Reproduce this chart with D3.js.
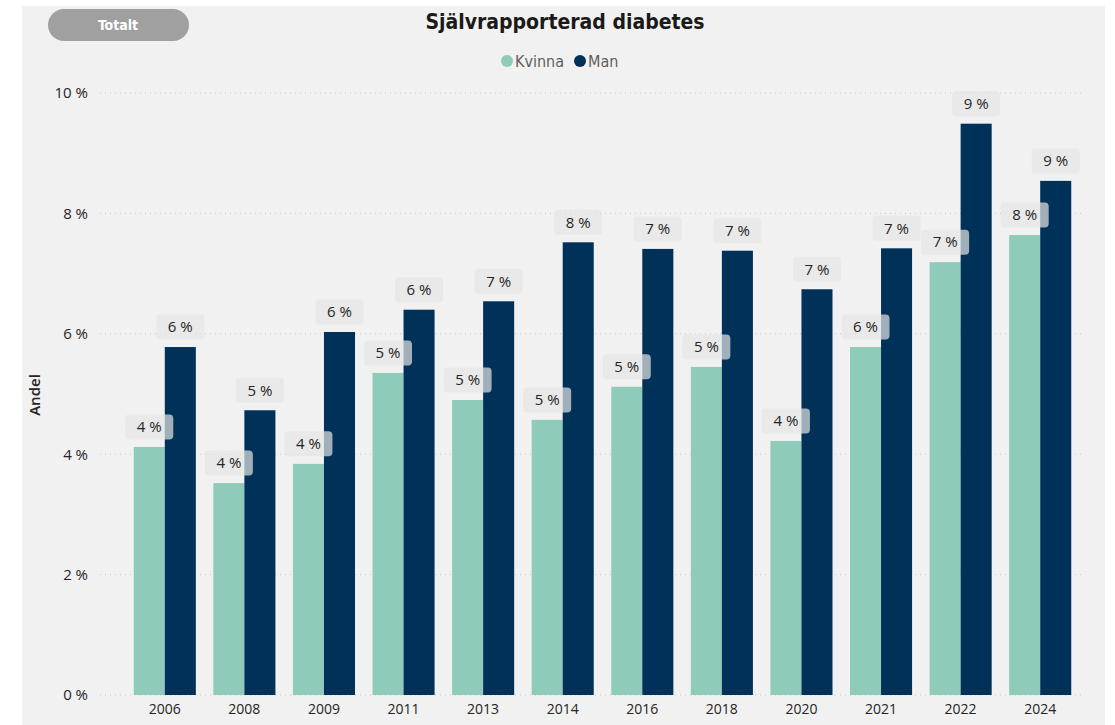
<!DOCTYPE html>
<html><head><meta charset="utf-8">
<script src="https://cdn.jsdelivr.net/npm/d3@7"></script>
<style>
html,body{margin:0;padding:0;background:#fff;}
svg{display:block;}
text{font-family:"Segoe UI","Open Sans","DejaVu Sans",sans-serif;}
</style></head><body>
<svg id="chart" width="1115" height="725"></svg>
<script>
const years = ["2006","2008","2009","2011","2013","2014","2016","2018","2020","2021","2022","2024"];
const kvinna = [4.12,3.52,3.84,5.35,4.90,4.57,5.12,5.45,4.22,5.78,7.19,7.64];
const man = [5.78,4.73,6.03,6.40,6.54,7.52,7.41,7.38,6.74,7.42,9.49,8.54];
const seriesNames = ["Kvinna","Man"];
const seriesColors = ["#8FCBBA","#003158"];
const yTicks = [0,2,4,6,8,10];
const titleText = "Självrapporterad diabetes";
const yTitle = "Andel";
const buttonText = "Totalt";

const svg = d3.select("#chart");
svg.append("rect").attr("x",22).attr("y",6).attr("width",1083).attr("height",719).attr("fill","#f1f1f1");

const x0 = d3.scaleBand().domain(years).range([125,1080]).paddingInner(0.22).paddingOuter(0.11);
const x1 = d3.scaleBand().domain(seriesNames).range([0,x0.bandwidth()]);
const y = d3.scaleLinear().domain([0,10]).range([695,93]);

// gridlines
svg.append("g").selectAll("line").data(yTicks).join("line")
  .attr("x1",100).attr("x2",1085).attr("y1",d=>y(d)).attr("y2",d=>y(d))
  .attr("stroke","#c8c8c8").attr("stroke-width",1).attr("stroke-dasharray","1,4");

// y axis
const yAxis = d3.axisLeft(y).tickValues(yTicks).tickFormat(d=>d+" %").tickSize(0).tickPadding(0);
const ya = svg.append("g").attr("transform","translate(88,0)").call(yAxis);
ya.select(".domain").remove();
ya.selectAll("text").attr("font-size",15).attr("fill","#252423").style("font-family",'"Segoe UI","Open Sans","DejaVu Sans",sans-serif');

// x axis
const xAxis = d3.axisBottom(x0).tickSize(0).tickPadding(0);
const xa = svg.append("g").attr("transform","translate(0,704)").call(xAxis);
xa.select(".domain").remove();
xa.selectAll("text").attr("font-size",14).attr("fill","#252423").style("font-family",'"Segoe UI","Open Sans","DejaVu Sans",sans-serif');

// y title
svg.append("text").attr("transform","translate(40,395) rotate(-90)").attr("text-anchor","middle")
  .attr("font-size",15).attr("font-weight",600).attr("fill","#252423").text(yTitle);

const data = years.map((yr,i)=>({year:yr, vals:[{s:"Kvinna",v:kvinna[i],c:seriesColors[0]},{s:"Man",v:man[i],c:seriesColors[1]}]}));
const groups = svg.append("g").selectAll("g").data(data).join("g")
  .attr("transform",d=>`translate(${x0(d.year)},0)`);
groups.selectAll("rect").data(d=>d.vals).join("rect")
  .attr("x",d=>x1(d.s)).attr("width",x1.bandwidth())
  .attr("y",d=>y(d.v)).attr("height",d=>y(0)-y(d.v)).attr("fill",d=>d.c);

// labels
const lab = svg.append("g");
data.forEach(d=>{
  d.vals.forEach(v=>{
    const cx = x0(d.year)+x1(v.s)+x1.bandwidth()/2;
    const cy = y(v.v)-20;
    lab.append("rect").attr("x",cx-24).attr("y",cy-12.5).attr("width",48).attr("height",25)
      .attr("rx",4).attr("fill","#e6e6e6").attr("fill-opacity",0.7);
    lab.append("text").attr("x",cx).attr("y",cy).attr("dy","0.35em").attr("text-anchor","middle")
      .attr("font-size",15).attr("fill","#252423").text(Math.round(v.v)+" %");
  });
});

// title
svg.append("text").attr("x",565).attr("y",22).attr("dy","0.35em").attr("text-anchor","middle")
  .attr("font-size",21).attr("font-weight","bold").attr("fill","#1b1a19")
  .style("font-family",'"DejaVu Sans Condensed","Roboto Condensed","Roboto",sans-serif').text(titleText);

// legend
const lg = svg.append("g");
const legX = [507,580];
seriesNames.forEach((s,i)=>{
  lg.append("circle").attr("cx",legX[i]).attr("cy",61).attr("r",6).attr("fill",seriesColors[i]);
  lg.append("text").attr("x",legX[i]+8).attr("y",61).attr("dy","0.35em").attr("font-size",16)
    .attr("fill","#605e5c").style("font-family",'"DejaVu Sans Condensed","Open Sans",sans-serif').text(s);
});

// button
svg.append("rect").attr("x",48).attr("y",9).attr("width",141).attr("height",32).attr("rx",16).attr("fill","#a0a0a0");
svg.append("text").attr("x",118).attr("y",25).attr("dy","0.35em").attr("text-anchor","middle")
  .attr("font-size",14).attr("font-weight","bold").attr("fill","#fff")
  .style("font-family",'"DejaVu Sans Condensed","Roboto",sans-serif').text(buttonText);
</script>
</body></html>
